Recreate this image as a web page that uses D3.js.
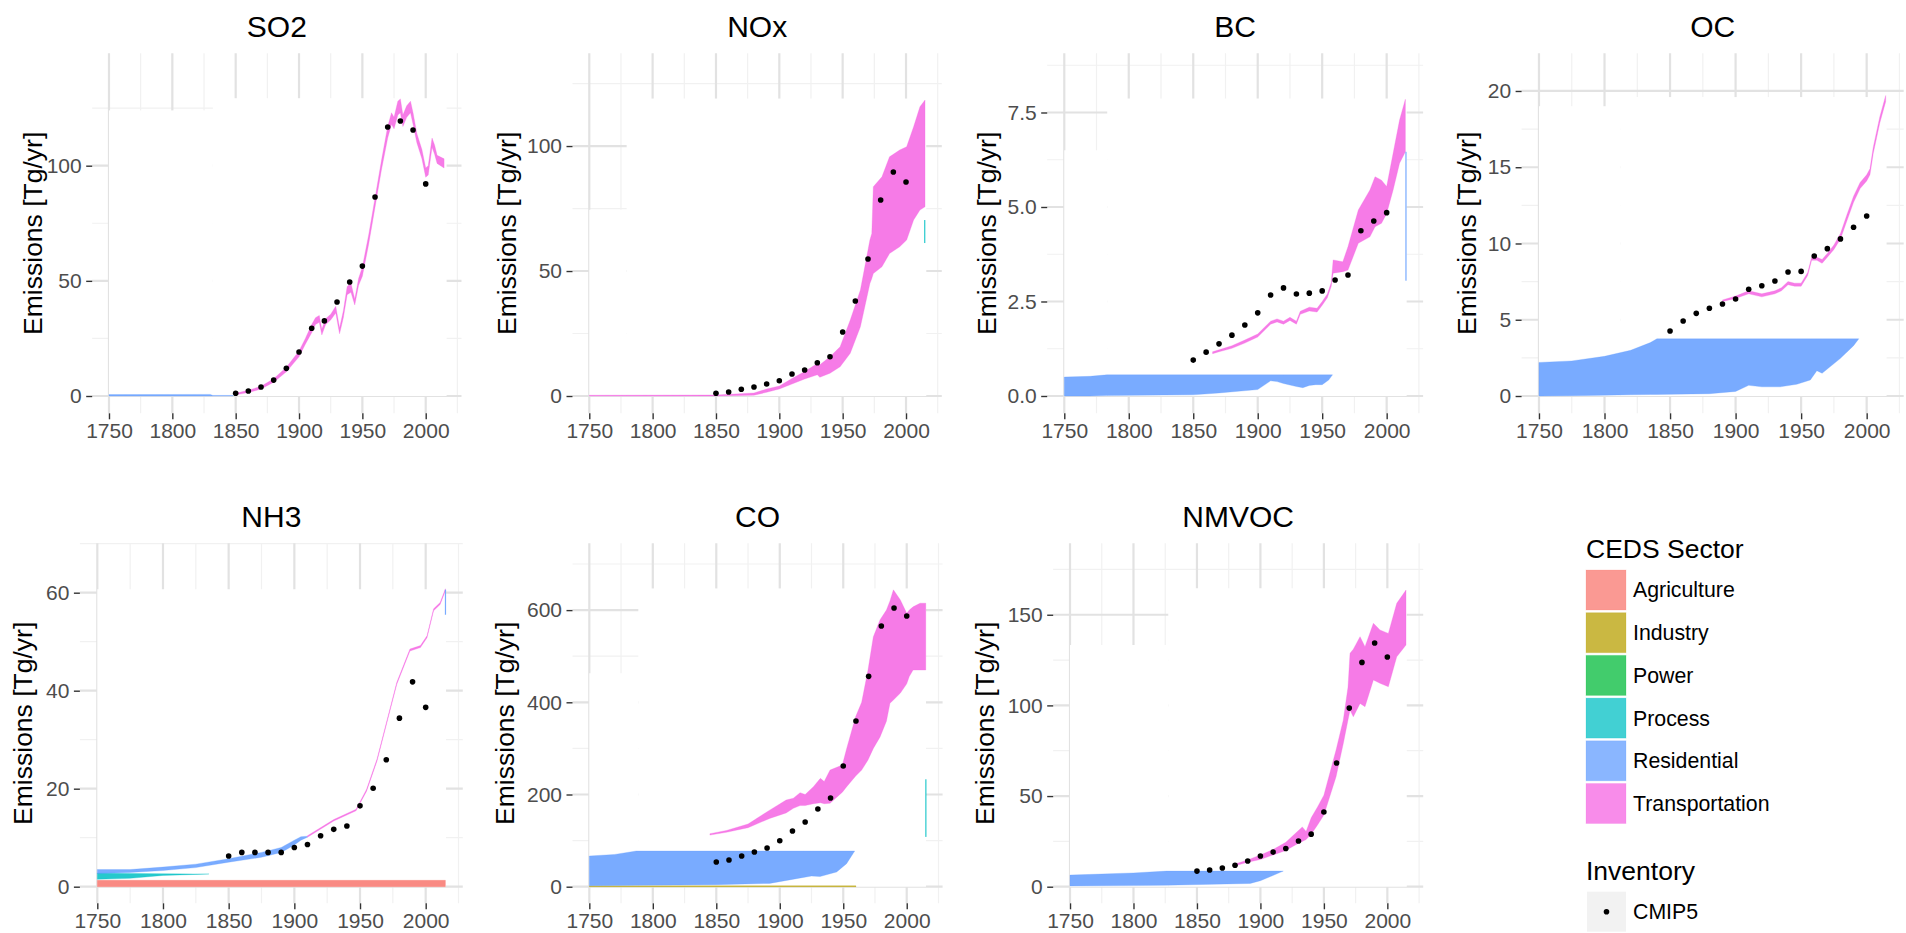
<!DOCTYPE html>
<html>
<head>
<meta charset="utf-8">
<script src="https://cdn.jsdelivr.net/npm/d3@7"></script>
<style>
  body { margin: 0; background: #fff; }
  svg { display: block; }
</style>
</head>
<body>
<div id="chart"></div>
<script>
const FONT = '"Liberation Sans", Arial, Helvetica, sans-serif';

// legend / colours
const sectors = ["Agriculture", "Industry", "Power", "Process", "Residential", "Transportation"];
const sectorColors = ["#F8766D", "#B79F00", "#00BA38", "#00BFC4", "#619CFF", "#F564E3"];

// x axis
const xDomain = [1736.75, 2028.25];
const xMajor = [1750, 1800, 1850, 1900, 1950, 2000];
const xMinor = [1775, 1825, 1875, 1925, 1975, 2025];

// CMIP5 inventory points (one per decade)
const cmipYears = [1850, 1860, 1870, 1880, 1890, 1900, 1910, 1920, 1930, 1940, 1950, 1960, 1970, 1980, 1990, 2000];
const so2Cmip   = [1.2, 2.2, 3.9, 6.9, 12.0, 19.1, 29.4, 32.6, 40.8, 49.5, 56.4, 86.4, 116.8, 119.4, 115.5, 92.1];
const noxCmip   = [1.1, 1.6, 2.7, 3.6, 4.8, 6.1, 8.8, 10.4, 13.3, 15.7, 25.6, 38, 54.8, 78.4, 89.6, 85.6];
const bcCmip    = [0.95, 1.16, 1.38, 1.61, 1.88, 2.2, 2.67, 2.86, 2.70, 2.72, 2.78, 3.07, 3.2, 4.37, 4.63, 4.85];
const ocCmip    = [4.26, 4.92, 5.42, 5.75, 6.03, 6.36, 7.0, 7.23, 7.54, 8.13, 8.17, 9.18, 9.66, 10.3, 11.06, 11.8];
const nh3Cmip   = [6.26, 7.0, 7.0, 7.0, 7.0, 8.0, 8.6, 10.4, 11.7, 12.4, 16.5, 20.1, 25.9, 34.4, 41.8, 36.6];
const coCmip    = [53.5, 57.8, 66.5, 75.2, 83.9, 99.8, 120.8, 140.3, 168.5, 192.3, 261.8, 359.4, 456.3, 565.4, 604.5, 587.1];
const nmvocCmip = [8.6, 9.2, 10.3, 11.8, 14.2, 16.9, 19.1, 21.1, 25.2, 29.0, 41.2, 68.2, 98.5, 123.7, 134.4, 126.7];

// CEDS sector bands: [year, low, high]
const so2Residential = [[1750, 0, 0.6], [1830, 0, 0.7], [1832, 0, 0.25], [1848, 0, 0.25]];
const so2Transport = [
  [1850, 0.5, 1.2], [1860, 1.5, 2.5], [1870, 3.0, 4.2], [1880, 6.0, 7.5], [1890, 10.5, 12.5],
  [1900, 17.0, 19.5], [1905, 22.5, 25], [1910, 27.5, 31], [1913, 31, 34], [1916, 32, 35],
  [1918, 26.5, 29], [1921, 31, 33.5], [1925, 33, 35.5], [1929, 36, 39], [1932, 27, 29.5],
  [1935, 34, 37], [1938, 44, 47.5], [1941, 45, 49], [1944, 39.5, 42], [1947, 48, 51],
  [1950, 52, 56], [1955, 66, 70], [1960, 82, 86], [1965, 98, 102], [1970, 112, 117],
  [1973, 118, 123], [1975, 116, 121], [1978, 122, 128], [1980, 123, 129], [1982, 117, 122],
  [1985, 121, 126], [1988, 123, 128], [1990, 118, 123], [1993, 110, 114], [1997, 103, 107],
  [2000, 95, 99], [2002, 96, 100], [2005, 108, 112], [2007, 105, 109], [2009, 101, 104.5], [2014.5, 99, 103]
];

const noxTransport = [
  [1750, 0, 0.3], [1850, 0, 0.4], [1880, 0.3, 1.2], [1890, 1.5, 2.8], [1900, 2.8, 4.0],
  [1910, 4.8, 7], [1920, 6.8, 9.8], [1930, 8.5, 13], [1932, 7.5, 12.5], [1940, 9.1, 15.7],
  [1948, 11.7, 19.7], [1956, 17.1, 30.4], [1964, 27.7, 42.4], [1971.5, 45, 62.4], [1973, 47, 65],
  [1974.2, 49, 83.7], [1981, 51.7, 87.7], [1987, 57, 95.7], [1995, 59.7, 98.4], [2000.5, 62.4, 99.7],
  [2006, 70.4, 107.7], [2011, 74.4, 115.7], [2015, 75.7, 118.4]
];

const bcResidential = [
  [1750, 0, 0.5], [1770, 0, 0.52], [1783, 0.01, 0.56], [1850, 0.03, 0.56], [1870, 0.08, 0.56],
  [1900, 0.17, 0.56], [1910, 0.4, 0.56], [1915, 0.38, 0.56], [1920, 0.33, 0.56], [1930, 0.25, 0.56],
  [1935, 0.22, 0.56], [1940, 0.28, 0.56], [1945, 0.3, 0.56], [1950, 0.3, 0.56], [1955, 0.42, 0.56],
  [1958, 0.56, 0.56]
];
const bcTransport = [
  [1865, 1.12, 1.17], [1870, 1.17, 1.22], [1880, 1.26, 1.33], [1890, 1.40, 1.48], [1900, 1.56, 1.64],
  [1910, 1.90, 1.98], [1915, 1.96, 2.04], [1920, 1.90, 1.98], [1925, 2.0, 2.08], [1930, 1.90, 1.98],
  [1933, 2.16, 2.24], [1940, 2.25, 2.35], [1946, 2.22, 2.32], [1950, 2.40, 2.5], [1954, 2.6, 2.7],
  [1957, 2.9, 3.0], [1958.5, 3.25, 3.6], [1966, 3.29, 3.55], [1970, 3.33, 3.95], [1978, 4.04, 4.92],
  [1987, 4.21, 5.45], [1991, 4.48, 5.80], [1996, 4.57, 5.71], [2000, 4.83, 5.54], [2005, 5.45, 6.42],
  [2010, 6.16, 7.30], [2014.5, 6.46, 7.85]
];

const ocResidential = [
  [1750, 0, 2.2], [1775, 0.02, 2.3], [1800, 0.05, 2.6], [1820, 0.08, 3.0], [1835, 0.1, 3.5],
  [1840, 0.1, 3.75], [1880, 0.15, 3.75], [1900, 0.3, 3.75], [1910, 0.7, 3.75], [1920, 0.6, 3.75],
  [1934, 0.6, 3.75], [1946.7, 0.77, 3.75], [1957, 1.05, 3.75], [1962, 1.66, 3.75], [1966, 1.49, 3.75],
  [1980, 2.47, 3.75], [1990, 3.3, 3.75], [1994, 3.75, 3.75]
];
const ocTransport = [
  [1890, 6.2, 6.3], [1900, 6.4, 6.55], [1910, 6.7, 6.9], [1920, 6.5, 6.7], [1930, 6.7, 6.9],
  [1935, 6.9, 7.1], [1940, 7.3, 7.5], [1945, 7.2, 7.4], [1950, 7.2, 7.4], [1955, 7.9, 8.1],
  [1958, 8.9, 9.1], [1962, 8.9, 9.1], [1966, 8.7, 8.95], [1970, 9.1, 9.35], [1975, 9.6, 9.9],
  [1980, 10.3, 10.65], [1985, 11.5, 11.9], [1990, 12.7, 13.1], [1995, 13.6, 14.0], [2000, 14.1, 14.5],
  [2002.5, 14.5, 14.9], [2005, 15.9, 16.3], [2010, 17.9, 18.3], [2014.5, 19.3, 19.7]
];

const nh3Agriculture = [[1750, 0, 1.3], [2015, 0, 1.3]];
const nh3Process = [[1750, 1.5, 2.8], [1775, 1.7, 2.7], [1800, 2.3, 2.65], [1825, 2.5, 2.6], [1835, 2.58, 2.6]];
const nh3Residential = [
  [1750, 2.7, 3.5], [1775, 2.9, 3.5], [1800, 3.3, 4.0], [1825, 3.9, 4.6], [1850, 5.0, 5.7],
  [1875, 6.0, 7.0], [1890, 7.0, 8.0], [1900, 8.5, 9.5], [1905, 9.5, 10.2], [1910, 10.1, 10.3]
];
const nh3Transport = [
  [1910, 10.1, 10.4], [1930, 13.4, 13.7], [1947, 15.5, 15.8], [1955, 19.5, 19.9], [1963, 25.7, 26.1],
  [1970, 33.0, 33.4], [1978, 41.3, 41.7], [1988, 48.1, 48.5], [1996, 48.8, 49.2], [2001, 50.8, 51.2],
  [2006, 56.3, 56.7], [2011, 57.6, 58.0], [2015, 60.4, 60.8]
];

const coIndustry = [[1750, 0, 1.8], [1960, 0, 1.8]];
const coResidential = [
  [1750, 2, 66.6], [1770, 2.5, 70], [1787, 3, 77.4], [1850, 4.5, 77.4], [1892, 7.2, 77.4],
  [1918.6, 20.2, 77.4], [1925, 23, 77.4], [1931.7, 22, 77.4], [1944.8, 32, 77.4], [1952.6, 50, 77.4],
  [1959, 77.4, 77.4]
];
const coTransport = [
  [1845, 112, 115], [1858, 118, 122], [1875, 128, 136], [1892, 148, 166], [1905, 160, 188],
  [1910.7, 170, 192], [1916, 176, 204], [1920, 176, 200], [1926.5, 180, 217], [1932, 182, 235],
  [1935, 180, 228], [1939.6, 181, 253], [1949.3, 205, 264], [1952.7, 217, 300], [1959.8, 240, 369],
  [1964.5, 253, 400], [1969.5, 275, 470], [1973.7, 300, 542], [1979, 325, 579], [1984, 359, 600],
  [1986.8, 398, 620], [1989.5, 405, 644], [1995, 420, 622], [2000, 440, 593], [2002, 456, 600],
  [2005, 470, 607], [2010.5, 470, 615], [2015, 470, 615]
];

const nmvocResidential = [
  [1750, 0.4, 6.4], [1800, 0.6, 7.6], [1826, 0.8, 8.6], [1892, 1.8, 8.6], [1900, 3.3, 8.6],
  [1907.5, 5.5, 8.6], [1918, 8.6, 8.6]
];
const nmvocTransport = [
  [1880, 11.5, 12.5], [1890, 13.5, 14.8], [1900, 15, 17.5], [1910, 17.5, 20.5], [1920, 20, 24.5],
  [1930, 24, 31], [1933, 25, 33], [1936, 26, 30.5], [1940, 29, 38], [1945, 34, 44],
  [1950, 39.5, 50.5], [1959.6, 60.7, 75.4], [1965.3, 79, 92], [1969, 92, 110], [1970.6, 97.4, 128.7],
  [1973.2, 93.7, 131], [1978.5, 101.1, 137.9], [1982.4, 99.3, 132.4], [1989, 114, 145.3],
  [1994.2, 112.2, 141.6], [2000.8, 110.3, 139.7], [2007.4, 126.8, 156.3], [2014.7, 133.3, 163.6]
];

// narrow slivers at the last year: [year0, year1, low, high]
const noxProcessEdge = [[2014.3, 2015.2, 61.2, 70.4]];
const bcResidentialEdge = [[2014.5, 2015.2, 3.05, 6.46]];
const nh3ResidentialEdge = [[2014.6, 2015.3, 55.5, 60.6]];
const coProcessEdge = [[2014.6, 2015.3, 108, 233]];

// white boxes hiding the grid behind the data: [year0, year1, top]
const so2Masks = [[1750, 1832, 124], [1832, 2016.5, 129.3]];
const noxMasks = [[1750, 1779.5, 74.5], [1779.5, 2016, 119]];
const bcMasks = [[1750, 1783.3, 6.5], [1783.3, 2015.5, 7.87]];
const ocMasks = [[1750, 1812, 19.0], [1812, 2015.2, 19.6]];
const nh3Masks = [[1750, 2015.5, 60.7]];
const coMasks = [[1750, 1788.6, 463], [1788.6, 2015.2, 647]];
const nmvocMasks = [[1750, 1827.4, 133.3], [1827.4, 2015.3, 164.6]];

const panels = [
  {name: "SO2", left: 92.2, top: 53.3, width: 369.3, height: 360, yDomain: [-7.51, 148.8],
   yTicks: [0, 50, 100], yLabels: ["0", "50", "100"], titleX: 33, cmip: so2Cmip, masks: so2Masks,
   bands: [["Residential", so2Residential], ["Transportation", so2Transport]], edges: []},
  {name: "NOx", left: 572.5, top: 53.3, width: 369.3, height: 360, yDomain: [-6.92, 137.1],
   yTicks: [0, 50, 100], yLabels: ["0", "50", "100"], titleX: 506.7, cmip: noxCmip, masks: noxMasks,
   bands: [["Transportation", noxTransport]], edges: [["Process", noxProcessEdge]]},
  {name: "BC", left: 1047.2, top: 53.3, width: 375.9, height: 360, yDomain: [-0.458, 9.066],
   yTicks: [0, 2.5, 5, 7.5], yLabels: ["0.0", "2.5", "5.0", "7.5"], titleX: 986.7, cmip: bcCmip, masks: bcMasks,
   bands: [["Residential", bcResidential], ["Transportation", bcTransport]], edges: [["Residential", bcResidentialEdge]]},
  {name: "OC", left: 1521.6, top: 53.3, width: 382.1, height: 360, yDomain: [-1.134, 22.47],
   yTicks: [0, 5, 10, 15, 20], yLabels: ["0", "5", "10", "15", "20"], titleX: 1466.7, cmip: ocCmip, masks: ocMasks,
   bands: [["Residential", ocResidential], ["Transportation", ocTransport]], edges: []},
  {name: "NH3", left: 79.9, top: 543.3, width: 382.9, height: 360, yDomain: [-3.39, 70.08],
   yTicks: [0, 20, 40, 60], yLabels: ["0", "20", "40", "60"], titleX: 23.3, cmip: nh3Cmip, masks: nh3Masks,
   bands: [["Agriculture", nh3Agriculture], ["Process", nh3Process], ["Residential", nh3Residential], ["Transportation", nh3Transport]],
   edges: [["Residential", nh3ResidentialEdge]]},
  {name: "CO", left: 572.5, top: 543.3, width: 370.1, height: 360, yDomain: [-36.0, 744.9],
   yTicks: [0, 200, 400, 600], yLabels: ["0", "200", "400", "600"], titleX: 505, cmip: coCmip, masks: coMasks,
   bands: [["Industry", coIndustry], ["Residential", coResidential], ["Transportation", coTransport]],
   edges: [["Process", coProcessEdge]]},
  {name: "NMVOC", left: 1053.2, top: 543.3, width: 370, height: 360, yDomain: [-9.15, 189.4],
   yTicks: [0, 50, 100, 150], yLabels: ["0", "50", "100", "150"], titleX: 985, cmip: nmvocCmip, masks: nmvocMasks,
   bands: [["Residential", nmvocResidential], ["Transportation", nmvocTransport]], edges: []}
];

const color = d3.scaleOrdinal().domain(sectors).range(sectorColors);
const FILL_OPACITY = 0.85;

const svg = d3.select("#chart").append("svg")
  .attr("width", 1906)
  .attr("height", 933)
  .style("font-family", FONT);

svg.append("rect").attr("width", 1906).attr("height", 933).attr("fill", "#fff");

panels.forEach(p => {
  const g = svg.append("g").attr("transform", `translate(${p.left},${p.top})`);
  const x = d3.scaleLinear().domain(xDomain).range([0, p.width]);
  const y = d3.scaleLinear().domain(p.yDomain).range([p.height, 0]);

  const step = p.yTicks[1] - p.yTicks[0];
  const yMinor = [p.yTicks[0] - step / 2].concat(p.yTicks.map(t => t + step / 2))
    .filter(v => v > p.yDomain[0] && v < p.yDomain[1]);

  // grid: minor then major
  g.selectAll("line.vminor").data(xMinor.filter(v => v < xDomain[1])).join("line")
    .attr("x1", d => x(d)).attr("x2", d => x(d)).attr("y1", 0).attr("y2", p.height)
    .attr("stroke", "#f1f1f1").attr("stroke-width", 1.2);
  g.selectAll("line.hminor").data(yMinor).join("line")
    .attr("x1", 0).attr("x2", p.width).attr("y1", d => y(d)).attr("y2", d => y(d))
    .attr("stroke", "#f1f1f1").attr("stroke-width", 1.2);
  g.selectAll("line.vmajor").data(xMajor).join("line")
    .attr("x1", d => x(d)).attr("x2", d => x(d)).attr("y1", 0).attr("y2", p.height)
    .attr("stroke", "#e2e2e2").attr("stroke-width", 2.2);
  g.selectAll("line.hmajor").data(p.yTicks).join("line")
    .attr("x1", 0).attr("x2", p.width).attr("y1", d => y(d)).attr("y2", d => y(d))
    .attr("stroke", "#e2e2e2").attr("stroke-width", 2.2);

  // white boxes behind the data
  g.selectAll("rect.mask").data(p.masks).join("rect")
    .attr("x", d => x(d[0])).attr("width", d => x(d[1]) - x(d[0]))
    .attr("y", d => y(d[2])).attr("height", d => y(0) - y(d[2]))
    .attr("fill", "#fff");

  // sector bands
  const area = d3.area().x(d => x(d[0])).y0(d => y(d[1])).y1(d => y(d[2]));
  p.bands.forEach(([sector, data]) => {
    g.append("path").datum(data)
      .attr("d", area)
      .attr("fill", color(sector))
      .attr("fill-opacity", FILL_OPACITY)
      .attr("stroke", color(sector))
      .attr("stroke-opacity", 0.35)
      .attr("stroke-width", 0.8);
  });

  p.edges.forEach(([sector, data]) => {
    g.selectAll(null).data(data).join("rect")
      .attr("x", d => x(d[0])).attr("width", d => Math.max(1.2, x(d[1]) - x(d[0])))
      .attr("y", d => y(d[3])).attr("height", d => y(d[2]) - y(d[3]))
      .attr("fill", color(sector)).attr("fill-opacity", FILL_OPACITY);
  });

  // CMIP5 points
  g.selectAll("circle.cmip").data(cmipYears.map((yr, i) => [yr, p.cmip[i]])).join("circle")
    .attr("cx", d => x(d[0])).attr("cy", d => y(d[1])).attr("r", 2.8)
    .attr("fill", "#000");

  // axes
  const yAxis = g.append("g")
    .call(d3.axisLeft(y).tickValues(p.yTicks).tickFormat((d, i) => p.yLabels[i]).tickSize(6).tickPadding(4.5))
    .attr("font-family", FONT).attr("font-size", 21);
  yAxis.select(".domain").remove();
  yAxis.selectAll("line").attr("stroke", "#333").attr("stroke-width", 1.4);
  yAxis.selectAll("text").attr("fill", "#4d4d4d");

  const xAxis = g.append("g").attr("transform", `translate(0,${p.height})`)
    .call(d3.axisBottom(x).tickValues(xMajor).tickFormat(d3.format("d")).tickSize(6).tickPadding(4))
    .attr("font-family", FONT).attr("font-size", 21);
  xAxis.select(".domain").remove();
  xAxis.selectAll("line").attr("stroke", "#333").attr("stroke-width", 1.4);
  xAxis.selectAll("text").attr("fill", "#4d4d4d");

  // panel title
  svg.append("text")
    .attr("x", p.left + p.width / 2).attr("y", p.top - 16.5)
    .attr("text-anchor", "middle").attr("font-size", 30).attr("fill", "#000")
    .text(p.name);

  // y axis title
  svg.append("text")
    .attr("transform", `translate(${p.titleX},${p.top + p.height / 2}) rotate(-90)`)
    .attr("text-anchor", "middle").attr("dominant-baseline", "central")
    .attr("font-size", 26.5).attr("fill", "#000")
    .text("Emissions [Tg/yr]");
});

// legend: CEDS Sector
const legend = svg.append("g").attr("transform", "translate(1586,0)");
legend.append("text").attr("x", 0).attr("y", 558).attr("font-size", 26.5).attr("fill", "#000").text("CEDS Sector");
const keyPitch = 42.7, keySize = 40;
const keys = legend.selectAll("g.key").data(sectors).join("g")
  .attr("transform", (d, i) => `translate(0,${570 + i * keyPitch})`);
keys.append("rect").attr("width", keySize).attr("height", keySize)
  .attr("fill", d => color(d)).attr("fill-opacity", 0.74)
  .attr("stroke", d => color(d)).attr("stroke-opacity", 0.2).attr("stroke-width", 1);
keys.append("text").attr("x", 47).attr("y", keySize / 2).attr("dy", "0.35em")
  .attr("font-size", 21.3).attr("fill", "#000").text(d => d);

// legend: Inventory
legend.append("text").attr("x", 0).attr("y", 880).attr("font-size", 26.5).attr("fill", "#000").text("Inventory");
legend.append("rect").attr("x", 1).attr("y", 891.7).attr("width", 39).attr("height", 40).attr("fill", "#f2f2f2");
legend.append("circle").attr("cx", 20.5).attr("cy", 911.7).attr("r", 2.8).attr("fill", "#000");
legend.append("text").attr("x", 47).attr("y", 911.7).attr("dy", "0.35em")
  .attr("font-size", 21.3).attr("fill", "#000").text("CMIP5");
</script>
</body>
</html>
